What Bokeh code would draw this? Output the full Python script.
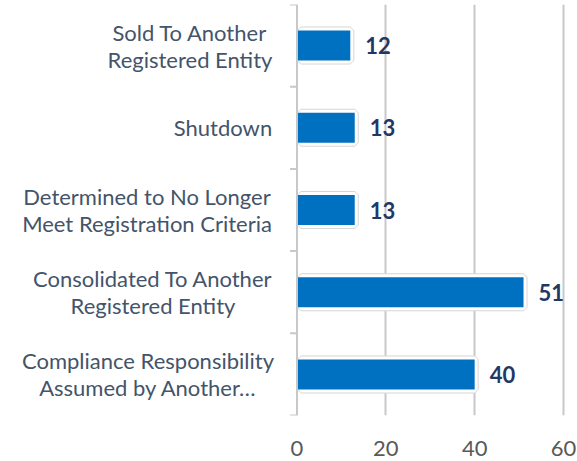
from bokeh.plotting import figure
from bokeh.models import Range1d, FixedTicker, ColumnDataSource, Span
from bokeh.core.properties import value
from bokeh.embed import file_html
from bokeh.resources import INLINE

# ---- data (bottom to top) ----
categories = [
    "Compliance Responsibility\nAssumed by Another…",
    "Consolidated To Another\nRegistered Entity",
    "Determined to No Longer\nMeet Registration Criteria",
    "Shutdown",
    "Sold To Another\nRegistered Entity",
]
counts = [40, 51, 13, 13, 12]
x_ticks = [0, 20, 40, 60]

# ---- style ----
FONT = "Lato"
BLUE = "#0070C0"
NAVY = "#1F3864"
LABEL_COLOR = "#44546A"
GRID = "#C8C8C8"
# horizontal centre of each category label block, px left of the value axis
label_center_offsets = [-149, -144, -150, -74, -107]
LINE_GAP = 13.5      # px from block centre to each line centre
TICK_PX = 7          # boundary tick length, px
RIM_PX = 4           # white/gray frame width around bars, px

W, H = 576, 460
BORDER_R = 11
FRAME_W = W - BORDER_R
X_START, X_END = -66.75, 60.45
px_per_unit = FRAME_W / (X_END - X_START)

positions = list(range(len(categories)))
boundaries = [p - 0.5 for p in positions] + [positions[-1] + 0.5]

line1, line2, y_off1, y_off2 = [], [], [], []
for cat in categories:
    parts = cat.split("\n")
    if len(parts) == 2:
        line1.append(parts[0]); line2.append(parts[1])
        y_off1.append(-LINE_GAP); y_off2.append(LINE_GAP)
    else:
        line1.append(parts[0]); line2.append("")
        y_off1.append(0); y_off2.append(0)

source = ColumnDataSource(dict(
    y=positions,
    right=counts,
    label=[str(v) for v in counts],
    zero=[0] * len(counts),
    line1=line1, line2=line2,
    yo1=y_off1, yo2=y_off2,
    xo=label_center_offsets,
))

p = figure(
    width=W, height=H,
    x_range=Range1d(X_START, X_END),
    y_range=Range1d(boundaries[0], boundaries[-1]),
    output_backend="svg", toolbar_location=None,
    min_border_left=0, min_border_right=BORDER_R,
    min_border_top=4, min_border_bottom=45,
)
p.outline_line_color = None
p.background_fill_color = "white"
p.border_fill_color = "white"
p.yaxis.visible = False

# grid
p.ygrid.grid_line_color = None
p.xgrid.ticker = FixedTicker(ticks=[t for t in x_ticks if t > 0])
p.xgrid.grid_line_color = GRID
p.xgrid.grid_line_width = 2

# x axis
p.xaxis.ticker = FixedTicker(ticks=x_ticks)
p.xaxis.axis_line_color = None
p.xaxis.major_tick_line_color = None
p.xaxis.minor_tick_line_color = None
p.xaxis.major_tick_out = 0
p.xaxis.major_label_text_font = FONT
p.xaxis.major_label_text_font_size = "22px"
p.xaxis.major_label_text_color = "#595959"
p.xaxis.major_label_standoff = 25
p.xaxis.major_label_text_line_height = 0.8

# bars: light gray rim, white frame, blue fill
BAR_H = 0.365
rim_left = RIM_PX / px_per_unit
p.hbar(y="y", right="right", left=rim_left, height=BAR_H, source=source,
       fill_color=BLUE, line_color="#D6D6D6", line_width=2 * RIM_PX)
p.hbar(y="y", right="right", left=rim_left, height=BAR_H, source=source,
       fill_color=BLUE, line_color="white", line_width=2 * RIM_PX - 2)
p.hbar(y="y", right="right", left=0, height=BAR_H, source=source,
       fill_color=BLUE, line_color=None)

# category axis: line at 0 and ticks at category boundaries
p.add_layout(Span(location=0, dimension="height", line_color=GRID, line_width=2))
p.segment(x0=[-TICK_PX / px_per_unit] * len(boundaries), x1=[0] * len(boundaries),
          y0=boundaries, y1=boundaries, line_color=GRID, line_width=2)

# value labels
p.text(x="right", y="y", text="label", source=source,
       x_offset=15, text_baseline="middle",
       text_font=value(FONT), text_font_style="bold",
       text_font_size="22px", text_color=NAVY)

# category labels: centred lines left of the axis
for col, yo in (("line1", "yo1"), ("line2", "yo2")):
    p.text(x="zero", y="y", text=col, source=source,
           x_offset="xo", y_offset=yo,
           text_align="center", text_baseline="middle",
           text_font=value(FONT), text_font_size="22px",
           text_color=LABEL_COLOR)

open("out.html", "w").write(file_html(p, INLINE))
